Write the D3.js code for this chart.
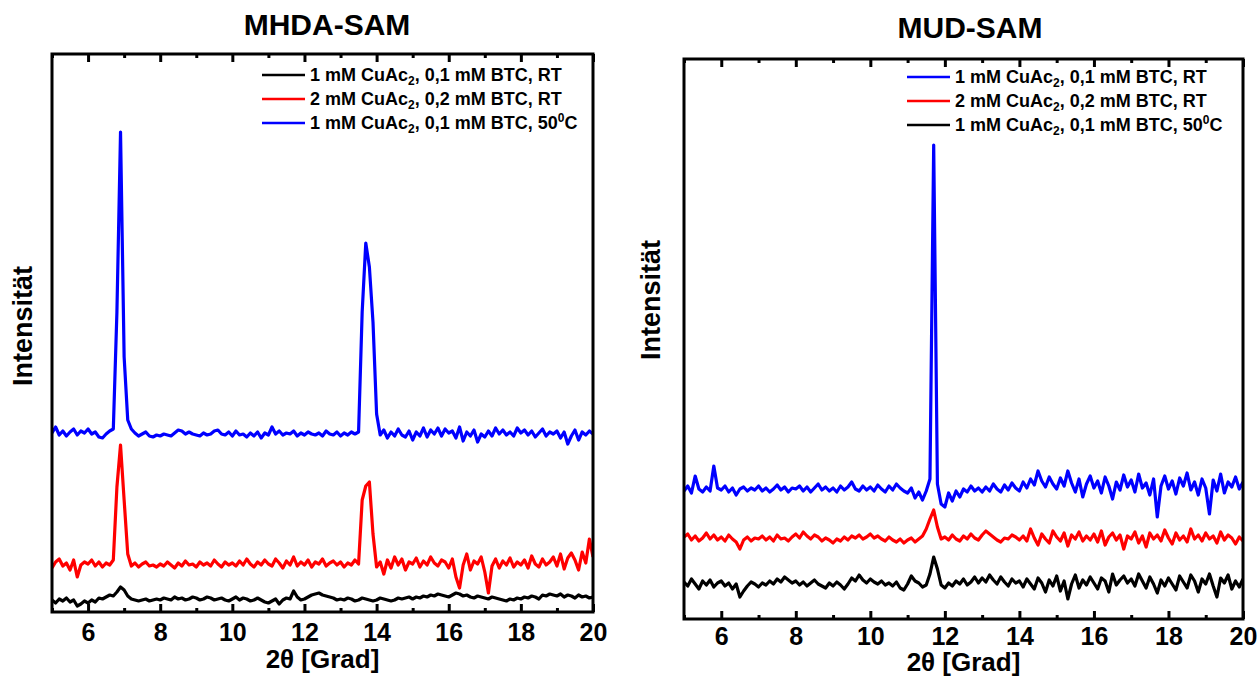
<!DOCTYPE html>
<html><head><meta charset="utf-8">
<script src="https://cdn.jsdelivr.net/npm/d3@7"></script>
<style>
body{margin:0;background:#fff}
svg{display:block}
text{font-family:"Liberation Sans",Arial,sans-serif;font-weight:bold;fill:#000}
</style>
</head><body><svg id="chart" width="1258" height="678"></svg>
<script>
// 2θ grid, 0.1° steps from 5 to 20
const twoTheta = d3.range(0, 151).map(i => +(5 + i * 0.1).toFixed(1));

const majorTicks = [6, 8, 10, 12, 14, 16, 18, 20];
const minorTicks = [5, 7, 9, 11, 13, 15, 17, 19];

const legendLabelsLeft = [
  ["1 mM CuAc", "2", ", 0,1 mM BTC, RT", ""],
  ["2 mM CuAc", "2", ", 0,2 mM BTC, RT", ""],
  ["1 mM CuAc", "2", ", 0,1 mM BTC, 50", "0", "C"]
];
const legendLabelsRight = [
  ["1 mM CuAc", "2", ", 0,1 mM BTC, RT", ""],
  ["2 mM CuAc", "2", ", 0,2 mM BTC, RT", ""],
  ["1 mM CuAc", "2", ", 0,1 mM BTC, 50", "0", "C"]
];

// MHDA-SAM (intensity, arbitrary units incl. vertical offset)
const mhdaBlack = [
  12,9,13,11,14,10,12,6,8,11,
  9,12,10,14,13,15,17,16,20,25,
  22,16,13,12,11,12,13,11,12,13,
  12,14,13,12,15,13,14,12,13,15,
  14,12,13,15,14,12,13,14,12,11,
  13,15,12,14,13,11,12,14,12,10,
  9,11,13,8,12,14,13,21,15,12,
  13,15,17,18,19,17,16,15,14,12,
  13,12,14,13,11,12,14,13,12,11,
  12,14,13,12,11,12,14,13,14,15,
  13,15,14,16,15,17,16,18,17,16,
  15,17,19,18,16,17,15,14,16,15,
  14,13,15,14,13,12,11,13,12,14,
  13,15,14,16,15,13,17,16,18,17,
  16,18,15,17,16,14,17,15,16,14,
  15
];
const mhdaRed = [
  44,50,53,46,49,42,52,35,47,50,
  48,52,46,50,45,49,47,52,125,167,
  112,58,46,49,45,48,50,46,47,45,
  48,46,50,47,44,49,46,51,47,48,
  45,50,47,49,46,52,48,45,50,47,
  49,46,51,47,53,48,45,50,47,52,
  48,46,53,49,44,51,47,55,46,50,
  47,52,45,50,48,53,46,49,51,47,
  50,45,49,47,52,48,112,126,130,78,
  45,50,38,52,44,55,47,53,42,50,
  48,54,45,51,47,55,49,46,52,50,
  44,53,35,24,47,58,42,51,48,55,
  40,19,46,53,44,51,47,54,45,50,
  47,52,44,56,48,45,53,47,50,55,
  46,58,43,54,59,52,42,60,49,73,
  55
];
const mhdaBlue = [
  179,185,177,181,176,180,183,177,181,179,
  183,178,180,175,174,178,181,183,300,480,
  255,192,183,179,176,178,180,176,175,177,
  176,178,177,176,179,182,181,178,180,178,
  177,176,179,177,178,181,182,178,177,180,
  176,181,177,178,175,179,176,180,174,179,
  177,185,178,181,177,179,178,181,176,179,
  177,180,178,177,179,176,181,178,177,180,
  176,179,177,180,178,180,300,369,345,290,
  198,177,182,174,180,176,183,177,175,181,
  172,180,176,184,175,182,178,184,176,183,
  179,181,174,185,171,180,176,182,170,178,
  175,181,176,184,178,182,177,180,176,184,
  179,182,177,181,175,179,183,176,180,178,
  181,174,180,168,176,182,172,180,177,181,
  178
];

// MUD-SAM
const mudBlue = [
  128,133,126,143,130,127,132,128,153,131,
  129,133,127,131,124,130,132,128,131,129,
  133,128,131,127,130,134,129,132,127,131,
  130,133,128,132,127,131,135,129,132,128,
  131,127,133,129,132,137,130,128,133,129,
  132,128,134,130,127,133,129,135,131,128,
  126,131,121,127,119,128,140,474,135,115,
  112,126,118,128,122,130,127,133,128,131,
  127,132,128,135,130,127,134,129,136,131,
  128,137,131,140,134,148,138,132,142,135,
  130,141,133,148,136,127,140,122,135,143,
  131,138,126,142,133,120,137,129,144,132,
  139,127,145,131,136,124,140,102,133,143,
  130,138,125,141,133,146,129,137,124,140,
  131,105,139,128,145,126,137,132,142,130,
  137
];
const mudRed = [
  82,85,79,83,78,81,86,80,84,79,
  82,78,84,80,77,70,79,82,78,81,
  80,83,79,82,78,84,80,81,78,82,
  85,81,87,83,80,84,82,78,81,79,
  76,80,78,82,79,83,81,84,80,82,
  85,81,83,80,78,82,79,77,80,76,
  79,81,77,80,83,90,100,109,92,80,
  82,79,84,80,78,83,80,85,81,79,
  84,88,85,82,79,77,81,80,84,82,
  79,83,78,90,81,74,85,80,76,88,
  82,78,86,73,84,80,87,78,83,79,
  85,77,88,74,82,86,79,84,70,83,
  80,87,76,83,72,86,80,84,78,89,
  81,75,86,79,83,77,90,80,84,78,
  86,80,83,76,87,79,84,81,75,82,
  78
];
const mudBlack = [
  37,33,40,35,30,38,34,39,32,36,
  38,33,36,30,35,22,28,33,37,35,
  32,36,34,38,35,40,37,42,39,36,
  38,34,37,33,36,39,35,33,31,36,
  33,37,34,30,35,41,38,44,39,36,
  40,37,35,38,34,36,33,37,31,29,
  35,43,38,36,32,34,45,62,50,34,
  31,36,33,38,35,40,34,37,42,36,
  41,37,44,39,35,42,37,33,40,36,
  38,32,40,35,30,41,36,27,39,33,
  43,28,38,20,35,44,31,39,34,42,
  36,30,41,38,27,45,34,39,43,36,
  40,33,45,38,31,42,35,26,39,33,
  41,35,29,43,37,31,44,38,27,40,
  35,45,33,22,41,36,44,30,38,32,
  40
];

const svg = d3.select("#chart");

const panels = [
  {
    id: "L", title: "MHDA-SAM",
    x0: 52, x1: 593, yTop: 54, yBot: 612, yMax: 558,
    titleX: 327, titleY: 35,
    ylabX: 22, ylabY: 326,
    tickPad: 11, xtitleY: 668,
    legX: 262, legY: 75,
    series: [
      {values: mhdaBlack, color: "#000000"},
      {values: mhdaRed, color: "#ff0000"},
      {values: mhdaBlue, color: "#0000ff"}
    ],
    legend: [
      {label: legendLabelsLeft[0], color: "#000000"},
      {label: legendLabelsLeft[1], color: "#ff0000"},
      {label: legendLabelsLeft[2], color: "#0000ff"}
    ]
  },
  {
    id: "R", title: "MUD-SAM",
    x0: 684, x1: 1243, yTop: 59, yBot: 619, yMax: 560,
    titleX: 970, titleY: 38,
    ylabX: 650, ylabY: 300,
    tickPad: 8, xtitleY: 671,
    legX: 907, legY: 77,
    series: [
      {values: mudBlack, color: "#000000"},
      {values: mudRed, color: "#ff0000"},
      {values: mudBlue, color: "#0000ff"}
    ],
    legend: [
      {label: legendLabelsRight[0], color: "#0000ff"},
      {label: legendLabelsRight[1], color: "#ff0000"},
      {label: legendLabelsRight[2], color: "#000000"}
    ]
  }
];

panels.forEach(p => {
  const x = d3.scaleLinear().domain([5, 20]).range([p.x0, p.x1]);
  const y = d3.scaleLinear().domain([0, p.yMax]).range([p.yBot, p.yTop]);
  const g = svg.append("g");

  g.append("clipPath").attr("id", "clip" + p.id)
    .append("rect").attr("x", p.x0).attr("y", p.yTop)
    .attr("width", p.x1 - p.x0).attr("height", p.yBot - p.yTop);

  const line = d3.line().x((d, i) => x(twoTheta[i])).y(d => y(d));
  const dg = g.append("g").attr("clip-path", `url(#clip${p.id})`);
  p.series.forEach(s => {
    dg.append("path").datum(s.values)
      .attr("d", line).attr("fill", "none")
      .attr("stroke", s.color).attr("stroke-width", 3.2)
      .attr("stroke-linejoin", "round");
  });

  // bottom axis, inward major ticks with labels
  const bx = g.append("g").attr("transform", `translate(0,${p.yBot})`)
    .call(d3.axisBottom(x).tickValues(majorTicks).tickSize(-8).tickPadding(p.tickPad).tickFormat(d3.format("d")));
  bx.select(".domain").remove();
  bx.selectAll("line").attr("stroke", "#000").attr("stroke-width", 3);
  bx.selectAll("text").attr("font-size", 25).attr("font-family", "Liberation Sans, Arial, sans-serif").attr("font-weight", "bold").attr("fill", "#000");
  const bm = g.append("g").attr("transform", `translate(0,${p.yBot})`)
    .call(d3.axisBottom(x).tickValues(minorTicks).tickSize(-4).tickFormat(""));
  bm.select(".domain").remove();
  bm.selectAll("line").attr("stroke", "#000").attr("stroke-width", 3);

  // top axis, inward ticks
  const tx = g.append("g").attr("transform", `translate(0,${p.yTop})`)
    .call(d3.axisTop(x).tickValues(majorTicks).tickSize(-8).tickFormat(""));
  tx.select(".domain").remove();
  tx.selectAll("line").attr("stroke", "#000").attr("stroke-width", 3);
  const tm = g.append("g").attr("transform", `translate(0,${p.yTop})`)
    .call(d3.axisTop(x).tickValues(minorTicks).tickSize(-4).tickFormat(""));
  tm.select(".domain").remove();
  tm.selectAll("line").attr("stroke", "#000").attr("stroke-width", 3);

  // frame
  g.append("rect").attr("x", p.x0).attr("y", p.yTop)
    .attr("width", p.x1 - p.x0).attr("height", p.yBot - p.yTop)
    .attr("fill", "none").attr("stroke", "#000").attr("stroke-width", 3);

  // titles
  g.append("text").attr("x", p.titleX).attr("y", p.titleY)
    .attr("text-anchor", "middle").attr("font-size", 30).text(p.title);
  g.append("text").attr("x", (p.x0 + p.x1) / 2).attr("y", p.xtitleY)
    .attr("text-anchor", "middle").attr("font-size", 26).text("2θ [Grad]");
  g.append("text")
    .attr("transform", `translate(${p.ylabX},${p.ylabY}) rotate(-90)`)
    .attr("text-anchor", "middle").attr("dy", "0.36em")
    .attr("font-size", 27).text("Intensität");

  // legend
  p.legend.forEach((l, i) => {
    const yy = p.legY + i * 24;
    g.append("line").attr("x1", p.legX).attr("x2", p.legX + 43)
      .attr("y1", yy).attr("y2", yy)
      .attr("stroke", l.color).attr("stroke-width", 2.5);
    const t = g.append("text").attr("x", p.legX + 48).attr("y", yy + 6).attr("font-size", 18);
    const parts = l.label;
    t.append("tspan").text(parts[0]);
    t.append("tspan").attr("font-size", 12).attr("dy", 4).text(parts[1]);
    t.append("tspan").attr("dy", -4).text(parts[2]);
    if (parts[3]) {
      t.append("tspan").attr("font-size", 12).attr("dy", -7).text(parts[3]);
      t.append("tspan").attr("dy", 7).text(parts[4]);
    }
  });
});
</script></body></html>
